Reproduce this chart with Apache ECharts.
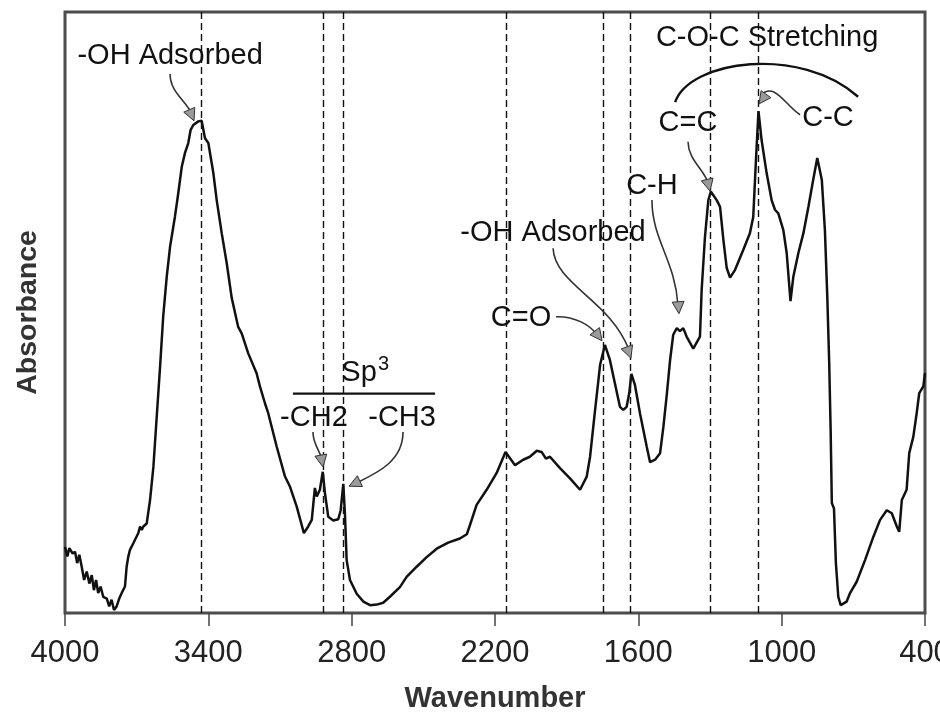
<!DOCTYPE html>
<html>
<head>
<meta charset="utf-8">
<script src="https://cdn.jsdelivr.net/npm/echarts@6/dist/echarts.min.js"></script>
<style>
html,body{margin:0;padding:0;background:#ffffff;}
#chart{width:940px;height:721px;}
</style>
</head>
<body>
<div id="chart"></div>
<script>
// ---- data ----
const wavenumber = [4000,3990,3982,3968,3958,3949,3940,3930,3920,3909,3898,3888,3879,3870,3861,3851,3840,3825,3815,3805,3795,3784,3773,3763,3749,3742,3735,3728,3714,3693,3686,3679,3672,3658,3644,3630,3616,3602,3589,3574,3560,3540,3526,3511,3498,3484,3474,3463,3442,3428,3414,3400,3379,3365,3344,3323,3302,3275,3260,3233,3198,3184,3163,3149,3114,3079,3058,3030,3000,2982,2967,2954,2946,2933,2921,2912,2898,2877,2856,2846,2835,2828,2821,2807,2779,2751,2723,2695,2668,2640,2598,2570,2528,2486,2444,2396,2347,2318,2305,2277,2235,2193,2156,2116,2082,2054,2025,2005,1987,1970,1928,1886,1844,1816,1802,1781,1760,1740,1719,1698,1677,1663,1649,1638,1629,1614,1593,1565,1551,1530,1509,1495,1481,1467,1454,1439,1426,1412,1398,1370,1342,1335,1321,1307,1296,1272,1258,1244,1230,1216,1195,1161,1133,1119,1107,1097,1084,1063,1042,1028,1014,993,979,963,951,930,909,888,868,851,832,819,809,801,795,790,781,773,763,753,728,714,686,651,616,588,560,539,518,508,497,477,466,449,435,424,407,400];
const absorbance = [11.0,9.4,10.8,9.9,10.2,8.3,9.7,7.7,5.5,6.9,4.9,6.3,3.8,5.5,3.3,4.4,2.7,2.4,1.1,2.2,0.5,1.1,2.4,3.3,4.4,7.7,9.4,10.5,11.6,13.3,14.4,13.8,14.4,14.9,18.8,24.3,32.7,41.0,49.3,56.0,61.0,65.9,69.8,74.3,76.5,78.2,80.4,81.2,81.8,81.9,79.0,78.2,73.2,68.7,63.2,58.2,52.4,47.6,46.5,43.2,39.9,37.7,34.9,33.2,27.7,22.7,21.0,17.7,13.3,14.4,15.5,20.8,19.4,20.5,23.5,20.0,16.0,15.4,15.6,17.1,21.5,16.3,8.8,5.5,3.2,1.9,1.3,1.4,1.7,2.7,4.3,6.0,7.7,9.3,10.7,11.7,12.4,13.1,14.6,18.0,20.5,23.3,26.8,24.6,25.5,26.0,27.0,26.8,25.7,26.0,24.1,22.4,20.5,22.7,26.0,33.8,41.3,44.6,42.1,38.2,34.3,33.8,34.3,36.6,39.8,37.9,33.2,27.7,25.1,25.5,26.6,31.0,36.3,42.1,46.3,47.4,46.9,47.4,46.0,44.0,46.0,53.7,62.6,68.7,70.1,68.7,67.6,62.1,57.4,55.8,57.1,60.4,63.2,65.9,75.9,83.5,78.7,73.2,68.7,67.1,66.5,63.7,59.9,51.9,56.0,59.9,63.2,67.6,72.1,75.7,72.1,63.7,52.6,41.6,30.5,18.3,17.4,8.3,2.7,1.3,1.9,3.3,5.2,8.8,12.7,15.5,17.1,16.6,14.4,13.5,18.8,20.5,26.6,29.3,33.2,36.6,37.7,39.9];

// x axis ticks: 4000 ... 400 step 600
const xMin = 400, xMax = 4000, xStep = 600;
// marked band positions (dashed verticals)
const bandLines = [3431, 2920, 2836, 2155, 1747, 1632, 1300, 1096];

const xTitle = 'Wavenumber';
const yTitle = 'Absorbance';

// annotation labels [text, wavenumber, absorbance]
const labelTexts  = ['-OH Adsorbed', 'C-O-C Stretching', 'C=C', 'C-C', 'C-H', '-OH Adsorbed', 'C=O', 'Sp', '-CH2', '-CH3'];
const labelWn     = [3560, 1061, 1392, 806, 1543, 1957, 2091, 2769, 2958, 2589];
const labelAbs    = [92.6, 95.7, 81.6, 82.4, 71.0, 63.2, 49.1, 39.9, 32.4, 32.4];
const supText = '3', supWn = 2667, supAbs = 41.4;

// arrows: bezier (start, cp1, cp2, end) then tip, in data units [wn, abs]
const arrowPaths = [
  [[3560,89.7],[3560,86.7],[3498,85.4],[3468,83.0],[3460,81.9]],
  [[1392,78.4],[1392,75.4],[1321,73.7],[1304,71.2],[1300,70.2]],
  [[923,82.9],[986,84.5],[1028,88.4],[1087,86.2],[1095,84.7]],
  [[1543,68.7],[1543,62.1],[1446,58.7],[1434,51.2],[1430,49.8]],
  [[1957,60.7],[1949,54.6],[1719,52.1],[1639,43.8],[1631,42.4]],
  [[1945,49.3],[1865,49.4],[1802,47.9],[1773,46.3],[1752,45.3]],
  [[2962,30.1],[2962,28.0],[2933,27.1],[2924,25.5],[2920,24.3]],
  [[2585,30.1],[2585,25.5],[2681,23.5],[2782,21.6],[2811,21.1]]
];
const cocArc = [[1446,85.0],[1384,92.0],[923,94.5],[680,85.9]];
const sp3Bar = [[3046,36.5],[2451,36.5]];

const chart = echarts.init(document.getElementById('chart'), null, {renderer:'canvas'});
const series = wavenumber.map((w,i)=>[w, absorbance[i]]);
const FONT = '"Liberation Sans", Arial, Helvetica, sans-serif';

chart.setOption({
  animation:false,
  backgroundColor:'#ffffff',
  grid:{left:65, right:15, top:12, bottom:108, outerBoundsMode:'none', containLabel:false,
        show:true, borderColor:'#4d4d4d', borderWidth:3, backgroundColor:'transparent'},
  xAxis:{
    type:'value', inverse:true, min:xMin, max:xMax, interval:xStep,
    name:xTitle, nameLocation:'middle', nameGap:71,
    nameTextStyle:{fontFamily:FONT, fontSize:29, fontWeight:'bold', color:'#333'},
    axisLine:{show:false},
    axisTick:{show:true, inside:false, length:13, lineStyle:{color:'#444', width:1.5}},
    axisLabel:{show:true, margin:25, fontSize:31, color:'#222', fontFamily:FONT,
               formatter:(v)=>String(v)},
    splitLine:{show:false}
  },
  yAxis:{
    type:'value', min:0, max:100,
    name:yTitle, nameLocation:'middle', nameGap:22, nameRotate:90,
    nameTextStyle:{fontFamily:FONT, fontSize:28.5, fontWeight:'bold', color:'#333'},
    axisLine:{show:false}, axisTick:{show:false}, axisLabel:{show:false}, splitLine:{show:false}
  },
  series:[{
    type:'line', data:series, showSymbol:false, symbol:'none', smooth:false,
    lineStyle:{color:'#111', width:2.5}, z:5,
    markLine:{
      silent:true, symbol:['none','none'], label:{show:false},
      lineStyle:{type:[7,4], color:'#111', width:1.4},
      data: bandLines.map(v=>({xAxis:v}))
    }
  }]
});

function px(p){ return chart.convertToPixel({gridIndex:0}, p); }
const g = [];
labelTexts.forEach((t,i)=>{
  const p = px([labelWn[i], labelAbs[i]]);
  g.push({type:'text', x:p[0], y:p[1], z:20, style:{text:t, font:'29px '+FONT, fill:'#111', align:'center', verticalAlign:'middle'}});
});
{
  const p = px([supWn, supAbs]);
  g.push({type:'text', x:p[0], y:p[1], z:20, style:{text:supText, font:'20px '+FONT, fill:'#111', align:'center', verticalAlign:'middle'}});
}
arrowPaths.forEach(a=>{
  const p = a.map(px);
  g.push({type:'bezierCurve', z:15, shape:{x1:p[0][0],y1:p[0][1],cpx1:p[1][0],cpy1:p[1][1],cpx2:p[2][0],cpy2:p[2][1],x2:p[3][0],y2:p[3][1]}, style:{stroke:'#333', lineWidth:1.6, fill:null}});
  const tip = p[4], e = p[2];
  let dx = tip[0]-e[0], dy = tip[1]-e[1];
  const L = Math.hypot(dx,dy) || 1; dx/=L; dy/=L;
  const len = 12, w = 6;
  const bx = tip[0]-dx*len, by = tip[1]-dy*len;
  g.push({type:'polygon', z:16, shape:{points:[[tip[0],tip[1]],[bx-dy*w, by+dx*w],[bx+dy*w, by-dx*w]]}, style:{fill:'#9a9a9a', stroke:'#333', lineWidth:1}});
});
{
  const p = cocArc.map(px);
  g.push({type:'bezierCurve', z:15, shape:{x1:p[0][0],y1:p[0][1],cpx1:p[1][0],cpy1:p[1][1],cpx2:p[2][0],cpy2:p[2][1],x2:p[3][0],y2:p[3][1]}, style:{stroke:'#111', lineWidth:2.4, fill:null}});
}
{
  const p = sp3Bar.map(px);
  g.push({type:'line', z:15, shape:{x1:p[0][0],y1:p[0][1],x2:p[1][0],y2:p[1][1]}, style:{stroke:'#111', lineWidth:2.4}});
}
chart.setOption({graphic:{elements:g}});
</script>
</body>
</html>
